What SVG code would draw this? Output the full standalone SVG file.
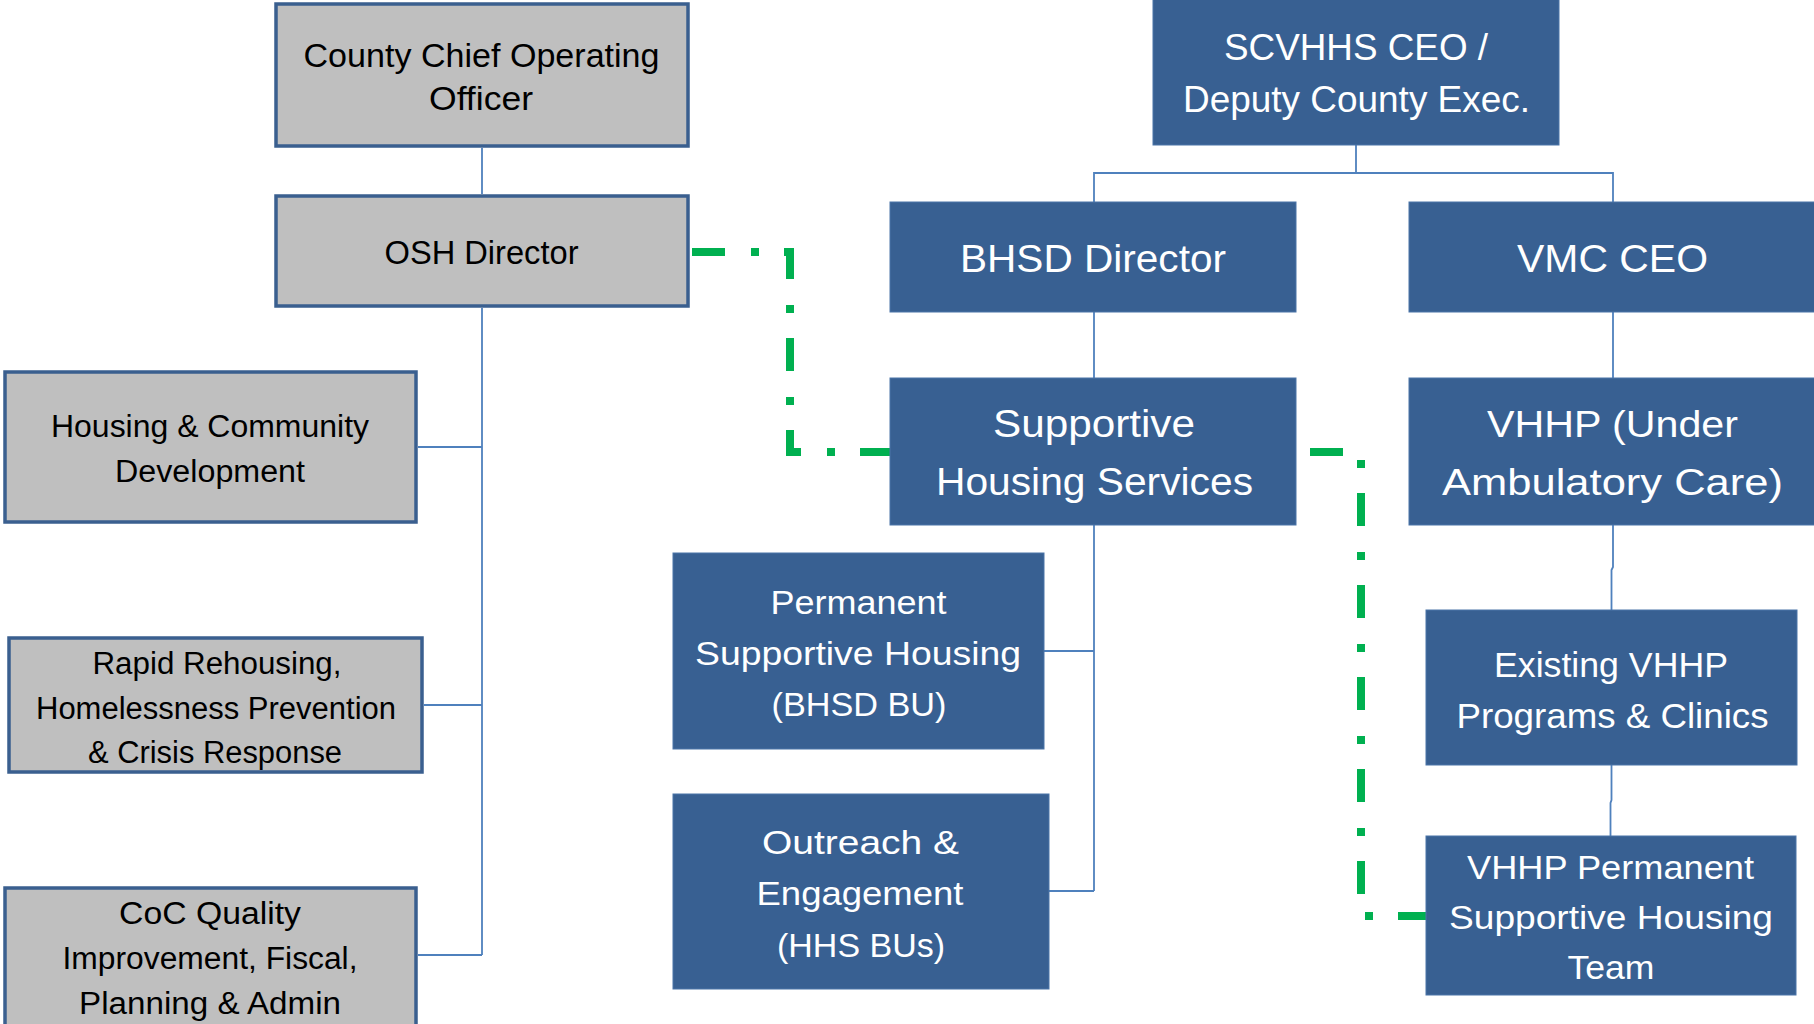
<svg xmlns="http://www.w3.org/2000/svg" width="1814" height="1024" viewBox="0 0 1814 1024">
<style>
.g{fill:#BFBFBF;stroke:#3A5F8F;stroke-width:3.5}
.b{fill:#386092;stroke:#4A74A8;stroke-width:1}
.tg{font-family:"Liberation Sans",Arial,sans-serif;fill:#000;text-anchor:middle}
.tb{font-family:"Liberation Sans",Arial,sans-serif;fill:#fff;text-anchor:middle}
.c{fill:none;stroke:#4F81BD;stroke-width:1.8}
.d{fill:none;stroke:#00B050;stroke-width:8;stroke-dasharray:33 26 8 25}
</style>
<rect width="1814" height="1024" fill="#fff"/>
<g id="connectors">
<path class="c" d="M482 148V194M482 308V955M418 447H482M424 705H482M418 955H482"/>
<path class="c" d="M1356 145V173M1094 202V173H1613V202M1094 312V378M1613 312V378"/>
<path class="c" d="M1094 525V891M1044 651H1094M1049 891H1094"/>
<path class="c" d="M1613 525V567L1611.5 570V610M1611.5 765V800L1610.5 803V836"/>
<path class="d" d="M692 252H790V452H890"/>
<path class="d" d="M1310 452H1361V916H1427"/>
</g>
<g id="county-coo"><rect class="g" x="276" y="4" width="412" height="142"/>
<text class="tg" font-size="33" x="481.5" y="67" textLength="356" lengthAdjust="spacingAndGlyphs">County Chief Operating</text>
<text class="tg" font-size="33" x="481" y="110" textLength="104" lengthAdjust="spacingAndGlyphs">Officer</text></g>
<g id="osh-director"><rect class="g" x="276" y="196" width="412" height="110"/>
<text class="tg" font-size="33" x="481.5" y="264" textLength="194" lengthAdjust="spacingAndGlyphs">OSH Director</text></g>
<g id="housing-community"><rect class="g" x="5" y="372" width="411" height="150"/>
<text class="tg" font-size="31" x="210" y="437" textLength="318" lengthAdjust="spacingAndGlyphs">Housing &amp; Community</text>
<text class="tg" font-size="31" x="210" y="482" textLength="190" lengthAdjust="spacingAndGlyphs">Development</text></g>
<g id="rapid-rehousing"><rect class="g" x="9" y="638" width="413" height="134"/>
<text class="tg" font-size="31" x="217" y="674" textLength="249" lengthAdjust="spacingAndGlyphs">Rapid Rehousing,</text>
<text class="tg" font-size="31" x="216" y="719" textLength="360" lengthAdjust="spacingAndGlyphs">Homelessness Prevention</text>
<text class="tg" font-size="31" x="215" y="763" textLength="254" lengthAdjust="spacingAndGlyphs">&amp; Crisis Response</text></g>
<g id="coc-quality"><rect class="g" x="5" y="888" width="411" height="140"/>
<text class="tg" font-size="31" x="210" y="924" textLength="182" lengthAdjust="spacingAndGlyphs">CoC Quality</text>
<text class="tg" font-size="31" x="210" y="969" textLength="295" lengthAdjust="spacingAndGlyphs">Improvement, Fiscal,</text>
<text class="tg" font-size="31" x="210" y="1014" textLength="262" lengthAdjust="spacingAndGlyphs">Planning &amp; Admin</text></g>
<g id="scvhhs-ceo"><rect class="b" x="1153" y="-2" width="406" height="147"/>
<text class="tb" font-size="37" x="1356" y="60" textLength="264" lengthAdjust="spacingAndGlyphs">SCVHHS CEO /</text>
<text class="tb" font-size="37" x="1356.5" y="112" textLength="347" lengthAdjust="spacingAndGlyphs">Deputy County Exec.</text></g>
<g id="bhsd-director"><rect class="b" x="890" y="202" width="406" height="110"/>
<text class="tb" font-size="38" x="1093" y="272" textLength="266" lengthAdjust="spacingAndGlyphs">BHSD Director</text></g>
<g id="vmc-ceo"><rect class="b" x="1409" y="202" width="407" height="110"/>
<text class="tb" font-size="38" x="1612.5" y="272" textLength="191" lengthAdjust="spacingAndGlyphs">VMC CEO</text></g>
<g id="supportive-housing-services"><rect class="b" x="890" y="378" width="406" height="147"/>
<text class="tb" font-size="38" x="1094" y="437" textLength="202" lengthAdjust="spacingAndGlyphs">Supportive</text>
<text class="tb" font-size="38" x="1094.5" y="495" textLength="317" lengthAdjust="spacingAndGlyphs">Housing Services</text></g>
<g id="vhhp"><rect class="b" x="1409" y="378" width="407" height="147"/>
<text class="tb" font-size="37" x="1612.5" y="437" textLength="251" lengthAdjust="spacingAndGlyphs">VHHP (Under</text>
<text class="tb" font-size="37" x="1612.5" y="495" textLength="341" lengthAdjust="spacingAndGlyphs">Ambulatory Care)</text></g>
<g id="permanent-supportive-housing"><rect class="b" x="673" y="553" width="371" height="196"/>
<text class="tb" font-size="34" x="858.5" y="614" textLength="176" lengthAdjust="spacingAndGlyphs">Permanent</text>
<text class="tb" font-size="34" x="858" y="665" textLength="326" lengthAdjust="spacingAndGlyphs">Supportive Housing</text>
<text class="tb" font-size="34" x="859" y="716" textLength="175" lengthAdjust="spacingAndGlyphs">(BHSD BU)</text></g>
<g id="outreach-engagement"><rect class="b" x="673" y="794" width="376" height="195"/>
<text class="tb" font-size="34" x="860.5" y="854" textLength="197" lengthAdjust="spacingAndGlyphs">Outreach &amp;</text>
<text class="tb" font-size="34" x="860" y="905" textLength="207" lengthAdjust="spacingAndGlyphs">Engagement</text>
<text class="tb" font-size="34" x="861" y="957" textLength="168" lengthAdjust="spacingAndGlyphs">(HHS BUs)</text></g>
<g id="existing-vhhp"><rect class="b" x="1426" y="610" width="371" height="155"/>
<text class="tb" font-size="35" x="1611" y="677" textLength="234" lengthAdjust="spacingAndGlyphs">Existing VHHP</text>
<text class="tb" font-size="35" x="1612.5" y="728" textLength="312" lengthAdjust="spacingAndGlyphs">Programs &amp; Clinics</text></g>
<g id="vhhp-psh-team"><rect class="b" x="1426" y="836" width="370" height="159"/>
<text class="tb" font-size="34" x="1610.5" y="879" textLength="287" lengthAdjust="spacingAndGlyphs">VHHP Permanent</text>
<text class="tb" font-size="34" x="1611" y="929" textLength="324" lengthAdjust="spacingAndGlyphs">Supportive Housing</text>
<text class="tb" font-size="34" x="1611" y="979" textLength="87" lengthAdjust="spacingAndGlyphs">Team</text></g>
</svg>
